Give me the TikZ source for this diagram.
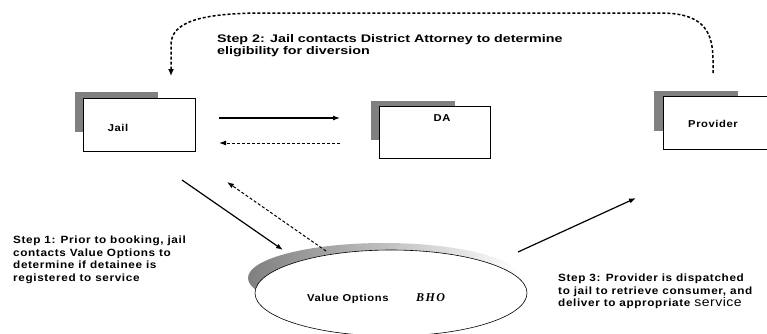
\documentclass[tikz,border=0pt]{standalone}
\usepackage{fontspec}
\setmainfont{Liberation Sans}
\newfontfamily\widefont[FakeStretch=1.12,LetterSpace=6]{Liberation Sans}
\newfontfamily\stretchfont[FakeStretch=1.3]{Liberation Sans}
\newfontfamily\bhofont[LetterSpace=12]{Liberation Serif}
\usetikzlibrary{arrows.meta,shapes.geometric}

\tikzset{
  unitbox/.style={draw, fill=white, line width=0.8pt, inner sep=0pt, anchor=north west},
  boxlabel/.style={font=\widefont\bfseries\fontsize{10}{12}\selectfont, inner sep=0pt},
  steptext/.style={font=\widefont\bfseries\fontsize{10.5}{12.5}\selectfont, align=left, inner sep=0pt, anchor=north west},
  shadowfill/.style={fill=black!50},
  flow/.style={line width=1.2pt, -{Latex[length=7pt,width=5pt]}},
  reply/.style={line width=1pt, dash pattern=on 3pt off 2pt, -{Latex[length=7pt,width=5pt]}},
}

\begin{document}
\begin{tikzpicture}[x=1pt,y=1pt,yscale=-1]
  \useasboundingbox (0,0) rectangle (767,333);

  % boxes with their grey shadows
  \fill[shadowfill] (75,92) rectangle (158,132);
  \node[unitbox, minimum width=112pt, minimum height=53pt] (jail) at (83,98) {};
  \node[boxlabel] (jaillbl) at (118,128) {Jail};

  \fill[shadowfill] (371,101) rectangle (455,140);
  \node[unitbox, minimum width=111pt, minimum height=52pt] (da) at (379,106) {};
  \node[boxlabel] (dalbl) at (442,118) {DA};

  \fill[shadowfill] (654,91) rectangle (738,131);
  \node[unitbox, minimum width=112pt, minimum height=53pt] (prov) at (663,96) {};
  \node[boxlabel] (provlbl) at (713,124) {Provider};

  % Value Options ellipse, shadow fading to the right
  \shade[left color=black!50, middle color=black!48, right color=white]
    (384,278) ellipse [x radius=136, y radius=35];
  \node[draw, fill=white, ellipse, line width=0.6pt, inner sep=0pt,
        minimum width=272pt, minimum height=86pt] (vo) at (391,293) {};
  \node[boxlabel, anchor=base west] (volbl) at (307,301) {Value Options};
  \node[font=\bhofont\bfseries\itshape\fontsize{12}{13}\selectfont, inner sep=0pt, anchor=base west] (bho) at (416,301) {BHO};

  % arrow ends
  \coordinate (jda1) at (219,118);
  \coordinate (jda2) at (340,118);
  \coordinate (daj1) at (340,143);
  \coordinate (daj2) at (219,143);
  \coordinate (jvo1) at (182,180);
  \coordinate (jvo2) at (283,250);
  \coordinate (voj1) at (326,251);
  \coordinate (voj2) at (227,182);
  \coordinate (vop1) at (518,252);
  \coordinate (vop2) at (636,198);
  \coordinate (top1) at (713,73);
  \coordinate (top2) at (171,76);

  \draw[flow] (jda1) -- (jda2);
  \draw[reply] (daj1) -- (daj2);
  \draw[flow] (jvo1) -- (jvo2);
  \draw[reply] (voj1) -- (voj2);
  \draw[flow] (vop1) -- (vop2);
  \draw[line width=1.5pt, dash pattern=on 3pt off 2pt, -{Latex[length=7pt,width=6pt]}]
    (top1) -- (713,60) .. controls (713,28) and (700,13) .. (660,13) -- (265,13)
    .. controls (200,13) and (171,22) .. (171,45) -- (top2);

  % step texts
  \node[steptext, font=\stretchfont\bfseries\fontsize{11}{12.5}\selectfont] (step2) at (217,34) {Step 2: Jail contacts District Attorney to determine\\eligibility for diversion};
  \node[steptext] (step1) at (13,236) {Step 1: Prior to booking, jail\\contacts Value Options to\\determine if detainee is\\registered to service};
  \node[steptext] (step3) at (558,274) {Step 3: Provider is dispatched\\to jail to retrieve consumer, and\\deliver to appropriate {\mdseries\addfontfeatures{LetterSpace=4}\fontsize{12.5}{13}\selectfont service}};
\end{tikzpicture}
\end{document}
